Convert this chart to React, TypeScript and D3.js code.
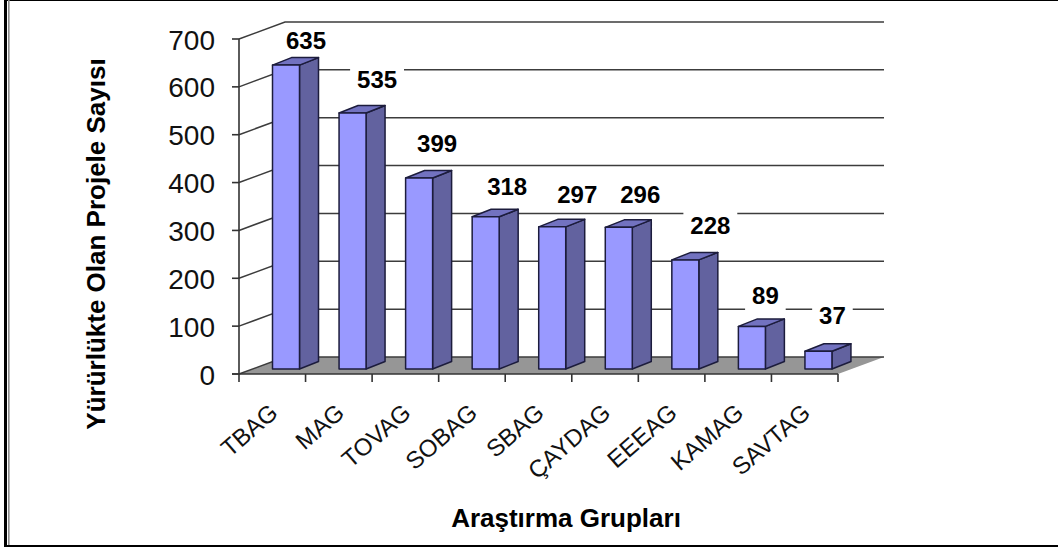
import { useEffect, useRef } from "react"
import * as d3 from "d3"

const groups = ["TBAG", "MAG", "TOVAG", "SOBAG", "SBAG", "ÇAYDAG", "EEEAG", "KAMAG", "SAVTAG"]
const projects = [635, 535, 399, 318, 297, 296, 228, 89, 37]
const yTicks = [0, 100, 200, 300, 400, 500, 600, 700]

// hand placed value labels: nudge from the bar's left edge / back top edge
const labelDx = [33.5, 38, 31.5, 35, 38.5, 35, 38.5, 27, 27.5]
const labelDy = [8.6, 17.4, 18.5, 14.3, 16.4, 16.8, 18.4, 15, 19.8]

const font = "'Liberation Sans', Arial, sans-serif"

export default function App() {
  const svgRef = useRef<SVGSVGElement>(null)

  useEffect(() => {
    if (!svgRef.current) return
    const svg = d3.select(svgRef.current)
    svg.selectAll("*").remove()

    const x = d3.scaleBand().domain(groups).range([239, 838])
    const y = d3.scaleLinear().domain([0, 700]).range([374, 39])

    // depth of the 3d box and of the bars
    const depth = { dx: 46, dy: -17 }
    const barDepth = { dx: 19, dy: -7.5 }
    const barW = 27

    // page frame
    svg.append("rect").attr("width", 1058).attr("height", 551).attr("fill", "white")
    svg.append("rect").attr("x", 4).attr("y", 0).attr("width", 1054).attr("height", 1).attr("fill", "black")
    svg.append("rect").attr("x", 4).attr("y", 0).attr("width", 3).attr("height", 547).attr("fill", "black")
    svg.append("rect").attr("x", 8).attr("y", 0).attr("width", 1.6).attr("height", 545).attr("fill", "#8c8c8c")
    svg.append("rect").attr("x", 4).attr("y", 545).attr("width", 1054).attr("height", 2).attr("fill", "black")

    // floor
    const floor = d3.line()([
      [x.range()[0], y(0)],
      [x.range()[0] + depth.dx, y(0) + depth.dy],
      [x.range()[1] + depth.dx, y(0) + depth.dy],
      [x.range()[1], y(0)],
    ]) + "Z"
    svg.append("path").attr("d", floor).attr("fill", "#969696")

    // gridlines on the back and side walls
    const grid = svg.append("g").attr("stroke", "#3c3c3c").attr("stroke-width", 1.5).attr("fill", "none")
    yTicks.forEach((t) => {
      const p = d3.line()([
        [x.range()[0], y(t)],
        [x.range()[0] + depth.dx, y(t) + depth.dy],
        [x.range()[1] + depth.dx, y(t) + depth.dy],
      ])
      grid.append("path").attr("d", p)
    })

    // axes
    const axis = svg.append("g").attr("stroke", "#333").attr("stroke-width", 1.6)
    axis.append("line").attr("x1", 239).attr("x2", 239).attr("y1", y(700)).attr("y2", y(0))
    axis.append("line").attr("x1", 232).attr("x2", 838).attr("y1", y(0)).attr("y2", y(0))
    yTicks.forEach((t) => {
      axis.append("line").attr("x1", 232).attr("x2", 239).attr("y1", y(t)).attr("y2", y(t))
    })
    d3.range(groups.length + 1).forEach((i) => {
      const px = 239 + i * x.bandwidth()
      axis.append("line").attr("x1", px).attr("x2", px).attr("y1", y(0)).attr("y2", y(0) + 8)
    })

    svg.append("g")
      .selectAll("text")
      .data(yTicks)
      .join("text")
      .attr("x", 215)
      .attr("y", (d) => y(d) + 10.5)
      .attr("text-anchor", "end")
      .attr("font-family", font)
      .attr("font-size", 28)
      .attr("fill", "#111")
      .text((d) => d)

    // bars
    const base = y(0) - 5
    const h = (v: number) => y(0) - y(v)
    groups.forEach((g, i) => {
      const x0 = (x(g) as number) + 33.5
      const top = base - h(projects[i])
      const bar = svg.append("g").attr("stroke", "#1c1c3c").attr("stroke-width", 1.5).attr("stroke-linejoin", "round")
      bar.append("path")
        .attr("fill", "#62629f")
        .attr("d", d3.line()([
          [x0 + barW, base],
          [x0 + barW + barDepth.dx, base + barDepth.dy],
          [x0 + barW + barDepth.dx, top + barDepth.dy],
          [x0 + barW, top],
        ]) + "Z")
      bar.append("path")
        .attr("fill", "#7272c0")
        .attr("d", d3.line()([
          [x0, top],
          [x0 + barDepth.dx, top + barDepth.dy],
          [x0 + barW + barDepth.dx, top + barDepth.dy],
          [x0 + barW, top],
        ]) + "Z")
      bar.append("rect")
        .attr("x", x0)
        .attr("y", top)
        .attr("width", barW)
        .attr("height", h(projects[i]))
        .attr("fill", "#9999ff")
    })

    // value labels, white box hides the gridline behind them
    groups.forEach((g, i) => {
      const cx = (x(g) as number) + 33.5 + labelDx[i]
      const ty = base - h(projects[i]) + barDepth.dy - labelDy[i]
      const w = String(projects[i]).length * 13.3 + 14
      svg.append("rect")
        .attr("x", cx - w / 2)
        .attr("y", ty - 22)
        .attr("width", w)
        .attr("height", 29)
        .attr("fill", "white")
      svg.append("text")
        .attr("x", cx)
        .attr("y", ty)
        .attr("text-anchor", "middle")
        .attr("font-family", font)
        .attr("font-weight", "bold")
        .attr("font-size", 24)
        .attr("fill", "black")
        .text(projects[i])
    })

    // category labels
    groups.forEach((g) => {
      const cx = (x(g) as number) + x.bandwidth() / 2 + 7
      svg.append("text")
        .attr("transform", `translate(${cx},${y(0) + 41}) rotate(-41)`)
        .attr("text-anchor", "end")
        .attr("font-family", font)
        .attr("font-size", 24)
        .attr("fill", "#111")
        .text(g)
    })

    svg.append("text")
      .attr("x", 566)
      .attr("y", 527)
      .attr("text-anchor", "middle")
      .attr("font-family", font)
      .attr("font-weight", "bold")
      .attr("font-size", 26)
      .text("Araştırma Grupları")

    svg.append("text")
      .attr("transform", "translate(105,244) rotate(-90)")
      .attr("text-anchor", "middle")
      .attr("font-family", font)
      .attr("font-weight", "bold")
      .attr("font-size", 26)
      .text("Yürürlükte Olan Projele Sayısı")
  }, [])

  return (
    <svg
      ref={svgRef}
      width={1058}
      height={551}
      style={{ position: "absolute", left: 0, top: 0, display: "block" }}
    />
  )
}
